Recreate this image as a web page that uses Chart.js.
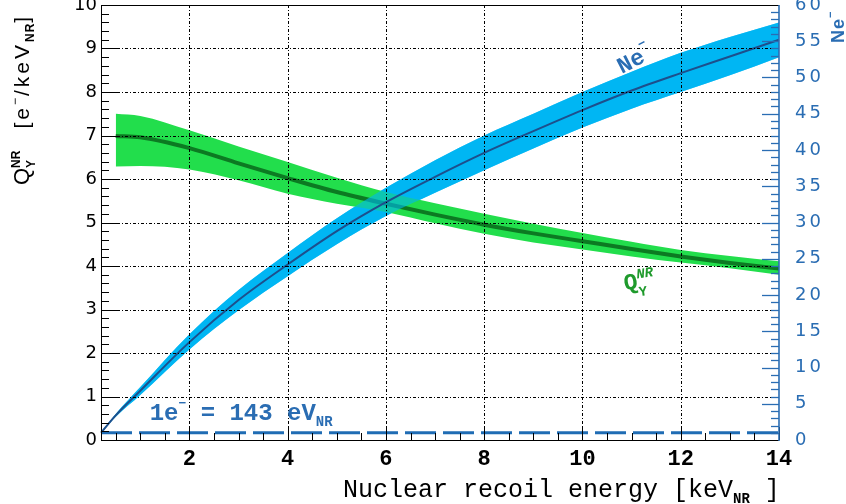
<!DOCTYPE html>
<html><head><meta charset="utf-8">
<script src="https://cdn.jsdelivr.net/npm/chart.js@4.4.0/dist/chart.umd.min.js"></script>
<style>html,body{margin:0;padding:0;background:#fff}#wrap{width:846px;height:504px}</style>
</head><body><div id="wrap"><canvas id="c" width="846" height="504"></canvas></div>
<script>
// ---------------- data ----------------
const energyQy   = [0.5, 1, 2, 3, 4, 5, 6, 7, 8, 9, 10, 11, 12, 13, 14];
const qyCentral  = [6.99, 6.96, 6.71, 6.36, 6.02, 5.70, 5.43, 5.18, 4.95, 4.75, 4.57, 4.39, 4.22, 4.07, 3.94];
const qyUpper    = [7.50, 7.45, 7.12, 6.75, 6.39, 6.03, 5.70, 5.44, 5.20, 4.97, 4.76, 4.56, 4.37, 4.23, 4.11];
const qyLower    = [6.29, 6.30, 6.22, 5.97, 5.66, 5.43, 5.24, 4.98, 4.74, 4.54, 4.38, 4.22, 4.08, 3.95, 3.80];

const energyNe   = [0.2, 0.5, 1, 2, 3, 4, 5, 6, 7, 8, 9, 10, 11, 12, 13, 14];
const neCentral  = [1.0, 3.4, 6.8, 13.5, 19.3, 24.2, 28.8, 32.8, 36.3, 39.6, 42.6, 45.5, 48.2, 50.6, 52.9, 55.2];
const neUpper    = [1.05, 3.6, 7.3, 14.6, 20.7, 25.8, 30.6, 34.8, 38.6, 42.0, 45.0, 48.0, 50.8, 53.4, 55.6, 57.6];
const neLower    = [0.95, 3.2, 6.2, 12.5, 17.9, 22.6, 27.0, 30.9, 34.1, 37.2, 40.2, 43.1, 45.7, 48.0, 50.3, 52.8];

const thresholdEnergy = [0.2, 14];
const thresholdNe     = [1, 1];

const xTickValues  = [2, 4, 6, 8, 10, 12, 14];
const yLeftTicks   = [0, 1, 2, 3, 4, 5, 6, 7, 8, 9, 10];
const yRightTicks  = [0, 5, 10, 15, 20, 25, 30, 35, 40, 45, 50, 55, 60];

// ---------------- style ----------------
const BLUE_AX = '#2a6db3';
const pts = (xs, ys) => xs.map((x, i) => ({x, y: ys[i]}));

function drawRich(ctx, segs, x, y, angle) {
  ctx.save();
  ctx.translate(x, y); ctx.rotate(angle);
  ctx.textAlign = 'left'; ctx.textBaseline = 'alphabetic';
  let cx = 0;
  segs.forEach(s => {
    if (s.skip) { cx += s.skip; return; }
    ctx.font = s.font; ctx.fillStyle = s.color;
    ctx.letterSpacing = (s.ls || 0) + 'px';
    ctx.fillText(s.t, cx, s.dy || 0);
    const w = ctx.measureText(s.t).width;
    if (!s.stack) cx += w;
  });
  ctx.restore();
}

const framePlugin = {
  id: 'frame',
  afterDatasetsDraw(chart) {
    const {ctx, chartArea: a, scales} = chart;
    const x = scales.x, y = scales.y, yR = scales.yR;
    ctx.save();
    const line = (x1, y1, x2, y2) => { ctx.beginPath(); ctx.moveTo(x1, y1); ctx.lineTo(x2, y2); ctx.stroke(); };
    // grid
    ctx.strokeStyle = '#000'; ctx.lineWidth = 1; ctx.setLineDash([3, 2, 1, 2]);
    xTickValues.forEach(v => { if (v < x.max) { const p = Math.round(x.getPixelForValue(v)) + 0.5; line(p, a.top, p, a.bottom); } });
    yLeftTicks.forEach(v => { if (v > y.min && v < y.max) { const p = Math.round(y.getPixelForValue(v)) + 0.5; line(a.left, p, a.right, p); } });
    ctx.setLineDash([]);
    // ticks x (every 0.5)
    ctx.strokeStyle = '#000'; ctx.lineWidth = 1;
    for (let k = 1; k * 0.5 <= x.max + 1e-9; k++) {
      const v = k * 0.5; if (v < x.min) continue;
      const p = Math.round(x.getPixelForValue(v)) + 0.5;
      line(p, a.bottom, p, a.bottom - (k % 4 === 0 ? 13 : 7));
    }
    // ticks left (every 0.2)
    for (let k = 1; k < 50; k++) {
      const p = Math.round(y.getPixelForValue(k * 0.2)) + 0.5;
      line(a.left, p, a.left + (k % 5 === 0 ? 17 : 8), p);
    }
    // ticks right (every 1)
    ctx.strokeStyle = BLUE_AX; ctx.lineWidth = 1.3;
    for (let k = 1; k < 60; k++) {
      const p = Math.round(yR.getPixelForValue(k)) + 0.5;
      line(a.right, p, a.right - (k % 5 === 0 ? 17 : 8), p);
    }
    // frame
    ctx.strokeStyle = '#000'; ctx.lineWidth = 1;
    line(a.left, a.top + 0.5, a.right, a.top + 0.5);
    line(a.left + 0.5, a.top, a.left + 0.5, a.bottom);
    line(a.left, a.bottom + 0.5, a.right, a.bottom + 0.5);
    ctx.strokeStyle = BLUE_AX; ctx.lineWidth = 1.6;
    line(a.right, a.top, a.right, a.bottom + 1);
    ctx.restore();
    ctx.letterSpacing = '3px'; // for right axis labels drawn in later layer
  },
  afterDraw(chart) {
    const {ctx, chartArea: a, scales} = chart;
    const x = scales.x, y = scales.y, yR = scales.yR;
    ctx.letterSpacing = '0px';
    const K = '#000';
    // left axis title
    drawRich(ctx, [
      {t: 'Q', font: '22px "Liberation Sans"', color: K},
      {t: 'Y', font: 'bold 12px "Liberation Sans"', color: K, dy: 6, stack: true},
      {t: 'NR', font: 'bold 12px "Liberation Sans"', color: K, dy: -9},
      {skip: 22},
      {t: '[e', font: '21px "Liberation Sans"', color: K, ls: 3},
      {t: '\u2212', font: '12px "Liberation Sans"', color: K, dy: -10, ls: 2},
      {t: '/keV', font: '21px "Liberation Sans"', color: K, ls: 3},
      {t: 'NR', font: 'bold 12px "Liberation Sans"', color: K, dy: 5, ls: 1},
      {t: ']', font: '21px "Liberation Sans"', color: K}
    ], 29, 185, -Math.PI / 2);
    // right axis title
    drawRich(ctx, [
      {t: 'Ne', font: 'bold 18px "Liberation Sans"', color: BLUE_AX, ls: 1},
      {t: '\u2212', font: 'bold 11px "Liberation Sans"', color: BLUE_AX, dy: -10}
    ], 844, 43, -Math.PI / 2);
    // x axis title
    drawRich(ctx, [
      {t: 'Nuclear recoil energy [keV', font: '25px "Liberation Mono"', color: K},
      {t: 'NR', font: 'bold 14px "Liberation Mono"', color: K, dy: 6},
      {t: ' ]', font: '25px "Liberation Mono"', color: K}
    ], 343, 497, 0);
    // threshold annotation
    drawRich(ctx, [
      {t: '1e', font: 'bold 24px "Liberation Mono"', color: BLUE_AX},
      {t: '\u2212', font: 'bold 13px "Liberation Mono"', color: BLUE_AX, dy: -13},
      {t: ' = 143 eV', font: 'bold 24px "Liberation Mono"', color: BLUE_AX},
      {t: 'NR', font: 'bold 14px "Liberation Mono"', color: BLUE_AX, dy: 6}
    ], x.getPixelForValue(1.19), yR.getPixelForValue(2.75), 0);
    // Ne- curve label
    drawRich(ctx, [
      {t: 'Ne', font: 'bold 23px "Liberation Mono"', color: BLUE_AX},
      {t: '\u2212', font: 'bold 13px "Liberation Mono"', color: BLUE_AX, dy: -14}
    ], x.getPixelForValue(10.8), yR.getPixelForValue(50.5), -27 * Math.PI / 180);
    // Qy curve label
    const G = '#1f9a2c';
    drawRich(ctx, [
      {t: 'Q', font: 'bold 23px "Liberation Mono"', color: G},
      {t: 'Y', font: 'bold 14px "Liberation Mono"', color: G, dy: 8, stack: true},
      {t: 'NR', font: 'bold italic 14px "Liberation Mono"', color: G, dy: -10}
    ], x.getPixelForValue(10.86), y.getPixelForValue(3.44), -8 * Math.PI / 180);
  }
};

const lineBase = {pointRadius: 0, pointHoverRadius: 0, cubicInterpolationMode: 'monotone', clip: false};
const NE_BAND = 'rgb(0,182,243)';

new Chart(document.getElementById('c'), {
  type: 'line',
  data: {
    datasets: [
      // 0,1: opaque blue band underneath everything
      Object.assign({}, lineBase, {label: 'Ne upper (base)', data: pts(energyNe, neUpper), yAxisID: 'yR', borderWidth: 0, borderColor: 'rgba(0,0,0,0)', fill: '+1', backgroundColor: NE_BAND, order: 7}),
      Object.assign({}, lineBase, {label: 'Ne lower (base)', data: pts(energyNe, neLower), yAxisID: 'yR', borderWidth: 0, borderColor: 'rgba(0,0,0,0)', fill: false, order: 7}),
      // 2,3: green band
      Object.assign({}, lineBase, {label: 'Qy upper', data: pts(energyQy, qyUpper), yAxisID: 'y', borderWidth: 0, borderColor: 'rgba(0,0,0,0)', fill: '+1', backgroundColor: '#22de4c', order: 5}),
      Object.assign({}, lineBase, {label: 'Qy lower', data: pts(energyQy, qyLower), yAxisID: 'y', borderWidth: 0, borderColor: 'rgba(0,0,0,0)', fill: false, order: 5}),
      // 4: green central
      Object.assign({}, lineBase, {label: 'Qy', data: pts(energyQy, qyCentral), yAxisID: 'y', borderWidth: 4, borderColor: '#0c7a22', fill: false, order: 4}),
      // 5,6: translucent blue band over green
      Object.assign({}, lineBase, {label: 'Ne upper', data: pts(energyNe, neUpper), yAxisID: 'yR', borderWidth: 0, borderColor: 'rgba(0,0,0,0)', fill: '+1', backgroundColor: 'rgba(0,182,243,0.6)', order: 3}),
      Object.assign({}, lineBase, {label: 'Ne lower', data: pts(energyNe, neLower), yAxisID: 'yR', borderWidth: 0, borderColor: 'rgba(0,0,0,0)', fill: false, order: 3}),
      // 7: blue central
      Object.assign({}, lineBase, {label: 'Ne', data: pts(energyNe, neCentral), yAxisID: 'yR', borderWidth: 2, borderColor: '#1d4f8c', fill: false, order: 1}),
      // 8: threshold dashed line
      Object.assign({}, lineBase, {label: '1e threshold', data: pts(thresholdEnergy, thresholdNe), yAxisID: 'yR', borderWidth: 3, borderColor: '#1f6cb4', borderDash: [31, 7], fill: false, cubicInterpolationMode: 'default', order: 0})
    ]
  },
  options: {
    responsive: false, animation: false, devicePixelRatio: 1,
    layout: {padding: {top: 5, left: 0, right: 0, bottom: 0}},
    plugins: {legend: {display: false}, tooltip: {enabled: false}},
    events: [],
    scales: {
      x: {
        type: 'linear', position: 'bottom', min: 0.2, max: 14,
        grid: {display: false, drawTicks: false}, border: {display: false},
        afterBuildTicks: s => { s.ticks = xTickValues.map(v => ({value: v})); },
        afterFit: s => { s.height = 64; s.paddingLeft = 0; s.paddingRight = 0; },
        ticks: {autoSkip: false, maxRotation: 0, padding: 6, color: '#000', font: {family: 'Liberation Mono', size: 22, weight: 'bold'}}
      },
      y: {
        type: 'linear', position: 'left', min: 0, max: 10,
        grid: {display: false, drawTicks: false}, border: {display: false},
        afterBuildTicks: s => { s.ticks = yLeftTicks.map(v => ({value: v})); },
        afterFit: s => { s.width = 101; s.paddingTop = 0; s.paddingBottom = 0; },
        ticks: {autoSkip: false, padding: 4, color: '#000', font: {family: 'DejaVu Sans', size: 18}}
      },
      yR: {
        type: 'linear', position: 'right', min: 0, max: 60,
        grid: {display: false, drawTicks: false}, border: {display: false},
        afterBuildTicks: s => { s.ticks = yRightTicks.map(v => ({value: v})); },
        afterFit: s => { s.width = 67; s.paddingTop = 0; s.paddingBottom = 0; },
        ticks: {autoSkip: false, padding: 16, color: BLUE_AX, z: 1, font: {family: 'DejaVu Sans', size: 18}}
      }
    }
  },
  plugins: [framePlugin]
});
</script>
</body></html>
